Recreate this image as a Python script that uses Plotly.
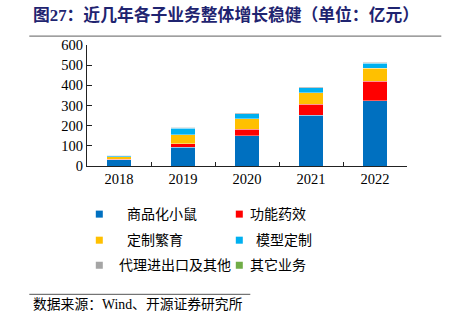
import plotly.graph_objects as go

years = ["2018", "2019", "2020", "2021", "2022"]
series_names = ["商品化小鼠", "功能药效", "定制繁育", "模型定制", "代理进出口及其他", "其它业务"]
mouse = [32, 93, 151, 252, 323]
pharma = [2, 18, 31, 53, 97]
breeding = [11, 45, 53, 58, 64]
model_custom = [7, 30, 24, 25, 25]
agency = [1, 5, 4, 4, 5]
other = [1, 2, 2, 2, 3]
values = [mouse, pharma, breeding, model_custom, agency, other]
colors = ["#0070C0", "#FF0000", "#FFC000", "#00B0F0", "#A5A5A5", "#70AD47"]
y_ticks = [0, 100, 200, 300, 400, 500, 600]

SERIF = "Liberation Serif, Times New Roman, Noto Sans CJK SC, serif"
CJK = "Liberation Serif, Noto Sans CJK SC, sans-serif"

fig = go.Figure()
for name, vals, col in zip(series_names, values, colors):
    fig.add_trace(go.Bar(x=years, y=vals, name=name,
                         marker=dict(color=col, line=dict(color="rgba(255,255,255,0.6)", width=0.6)),
                         showlegend=False))

W, H = 450, 322
L, R, T, B = 86.7, 43.3, 45.3, 156
PW, PH = W - L - R, H - T - B

fig.update_layout(
    width=W, height=H, barmode="stack", bargap=0.61,
    margin=dict(l=L, r=R, t=T, b=B, autoexpand=False),
    plot_bgcolor="white", paper_bgcolor="white",
    font=dict(family=SERIF, size=14.5, color="black"),
    xaxis=dict(type="category", showline=True, linecolor="#222", linewidth=1,
               ticks="inside", ticklen=4, tickcolor="#222", tickson="boundaries",
               tickfont=dict(family=SERIF, size=14.5, color="black"), showgrid=False),
    yaxis=dict(range=[0, 600], tickvals=y_ticks, showline=True, linecolor="#222", linewidth=1,
               ticks="inside", ticklen=5, tickcolor="#222", showgrid=False, zeroline=False,
               tickfont=dict(family=SERIF, size=14.5, color="black")),
)

def px2x(px):
    return (px - L) / PW

def px2y(py):
    return (H - B - py) / PH

shapes = []
annotations = []
# title
annotations.append(dict(x=px2x(31), y=px2y(15), xref="paper", yref="paper", xanchor="left", yanchor="middle",
                        text="<b>图27：近几年各子业务整体增长稳健（单位：亿元）</b>", showarrow=False,
                        font=dict(family=CJK, size=16.8, color="#1F2470")))
shapes.append(dict(type="line", xref="paper", yref="paper", x0=px2x(29), x1=px2x(441), y0=px2y(36.5), y1=px2y(36.5),
                   line=dict(color="#7f7f7f", width=1.2)))
# footer
shapes.append(dict(type="line", xref="paper", yref="paper", x0=px2x(29), x1=px2x(250), y0=px2y(294), y1=px2y(294),
                   line=dict(color="#555", width=1)))
annotations.append(dict(x=px2x(31), y=px2y(304), xref="paper", yref="paper", xanchor="left", yanchor="middle",
                        text="数据来源：Wind、开源证券研究所", showarrow=False,
                        font=dict(family=CJK, size=13.8, color="black")))
# legend (manual)
leg_pos = [(99, 125, 214), (239, 248, 214), (99, 125, 240), (239, 254, 240), (99, 117, 265), (239, 248, 265)]
for name, col, (mx, tx, ty) in zip(series_names, colors, leg_pos):
    shapes.append(dict(type="rect", xref="paper", yref="paper", x0=px2x(mx - 3.5), x1=px2x(mx + 3.5),
                       y0=px2y(ty + 3.5), y1=px2y(ty - 3.5), fillcolor=col, line=dict(width=0)))
    annotations.append(dict(x=px2x(tx), y=px2y(ty), xref="paper", yref="paper", xanchor="left", yanchor="middle",
                            text=name, showarrow=False, font=dict(family=CJK, size=14, color="black")))

fig.update_layout(shapes=shapes, annotations=annotations)
fig.write_html("out.html")
